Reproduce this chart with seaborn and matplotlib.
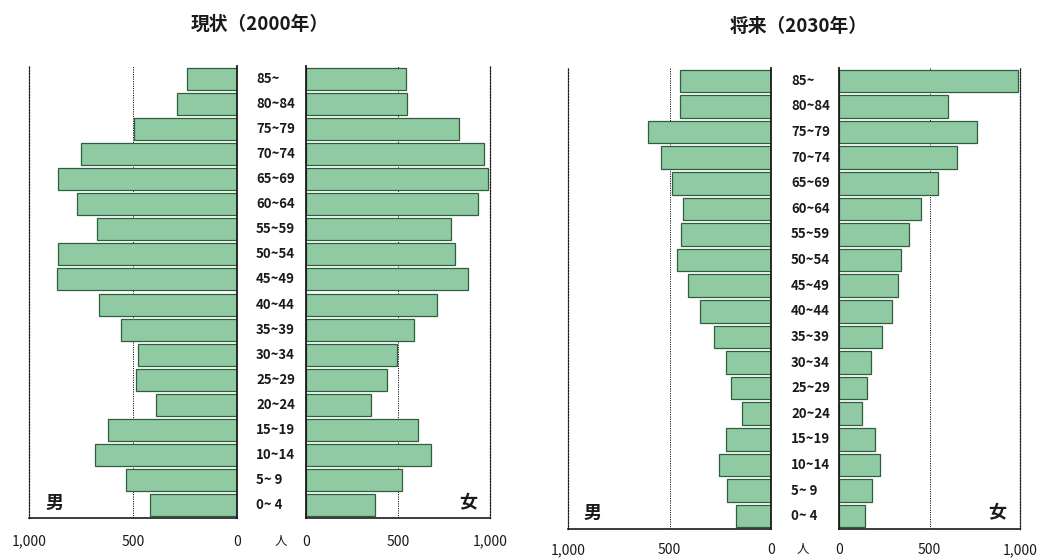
import matplotlib
matplotlib.use("Agg")
import matplotlib.pyplot as plt
import seaborn as sns
import pandas as pd

# Age groups, oldest at the top of the pyramid
ages = ["85~", "80~84", "75~79", "70~74", "65~69", "60~64", "55~59", "50~54",
        "45~49", "40~44", "35~39", "30~34", "25~29", "20~24", "15~19",
        "10~14", "5~ 9", "0~ 4"]

# Population (persons) by age group
male_2000 = [240, 288, 495, 750, 860, 770, 673, 860, 865, 663, 558, 476, 486,
             389, 620, 683, 534, 418]
female_2000 = [543, 549, 832, 967, 989, 935, 788, 810, 880, 712, 587, 495,
               440, 353, 609, 679, 522, 375]
male_2030 = [448, 448, 606, 542, 488, 434, 443, 463, 409, 350, 281, 222, 197,
             143, 222, 256, 217, 172]
female_2030 = [989, 602, 762, 652, 547, 453, 387, 343, 326, 293, 238, 177,
               155, 127, 199, 227, 182, 144]

titles = ["現状（2000年）", "将来（2030年）"]
tick_values = [0, 500, 1000]
tick_labels = ["0", "500", "1,000"]

W, H = 1037, 558
BAR_FILL = "#90caa3"
BAR_EDGE = "#2f5e3c"
INK = "#1a1a1a"

sns.set_theme(style="white")
plt.rcParams["font.family"] = ["Noto Sans CJK JP", "DejaVu Sans"]

fig = plt.figure(figsize=(W / 100, H / 100), dpi=100)
fig.patch.set_facecolor("white")


def px_axes(x0, x1, ytop, ybot):
    return fig.add_axes([x0 / W, 1 - ybot / H, (x1 - x0) / W, (ybot - ytop) / H])


def draw_side(ax, values, side, pad):
    df = pd.DataFrame({"age": ages, "pop": values})
    sns.barplot(data=df, x="pop", y="age", orient="h", color=BAR_FILL,
                saturation=1, edgecolor=BAR_EDGE, linewidth=0.9, width=0.88,
                ax=ax)
    ax.set_ylim(len(ages) - 0.5, -0.5)
    if side == "male":
        ax.set_xlim(1000, 0)
        inner, outer = "right", "left"
    else:
        ax.set_xlim(0, 1000)
        inner, outer = "left", "right"
    ax.axvline(500, color=INK, lw=0.7, ls=(0, (1.2, 1.2)), zorder=0)
    ax.set_xticks(tick_values)
    ax.set_xticklabels(tick_labels, fontsize=10)
    ax.set_yticks([])
    ax.set_xlabel("")
    ax.set_ylabel("")
    ax.tick_params(axis="x", length=0, pad=pad, colors=INK)
    ax.spines["top"].set_visible(False)
    ax.spines[inner].set_color(INK)
    ax.spines[inner].set_linewidth(1.3)
    ax.spines[outer].set_color(INK)
    ax.spines[outer].set_linewidth(0.9)
    ax.spines[outer].set_linestyle((0, (1.2, 1.2)))
    ax.spines["bottom"].set_color(INK)
    ax.spines["bottom"].set_linewidth(1.2)
    ax.set_facecolor("none")


panels = [
    dict(m=(29, 237), f=(306, 490), top=66, bot=518, male=male_2000,
         female=female_2000, title=(260, 24), age_x=256, man=(55, 503),
         woman=(468, 503), hito=(281, 541), pad=12),
    dict(m=(568, 771), f=(839, 1020), top=68, bot=529, male=male_2030,
         female=female_2030, title=(799, 26), age_x=791, man=(593, 513),
         woman=(997, 513), hito=(803, 550), pad=10),
]

for p, title in zip(panels, titles):
    axm = px_axes(p["m"][0], p["m"][1], p["top"], p["bot"])
    axf = px_axes(p["f"][0], p["f"][1], p["top"], p["bot"])
    draw_side(axm, p["male"], "male", p["pad"])
    draw_side(axf, p["female"], "female", p["pad"])

    slot = (p["bot"] - p["top"]) / len(ages)
    for i, age in enumerate(ages):
        yc = p["top"] + slot * (i + 0.5)
        fig.text(p["age_x"] / W, 1 - yc / H, age, fontsize=9.5,
                 fontweight="bold", ha="left", va="center", color=INK)

    fig.text(p["title"][0] / W, 1 - p["title"][1] / H, title, fontsize=13.5,
             fontweight="bold", ha="center", va="center", color=INK)
    fig.text(p["man"][0] / W, 1 - p["man"][1] / H, "男", fontsize=13,
             fontweight="bold", ha="center", va="center", color=INK)
    fig.text(p["woman"][0] / W, 1 - p["woman"][1] / H, "女", fontsize=13,
             fontweight="bold", ha="center", va="center", color=INK)
    fig.text(p["hito"][0] / W, 1 - p["hito"][1] / H, "人", fontsize=9,
             ha="center", va="center", color=INK)

fig.savefig("out.png", dpi=100, facecolor="white")
